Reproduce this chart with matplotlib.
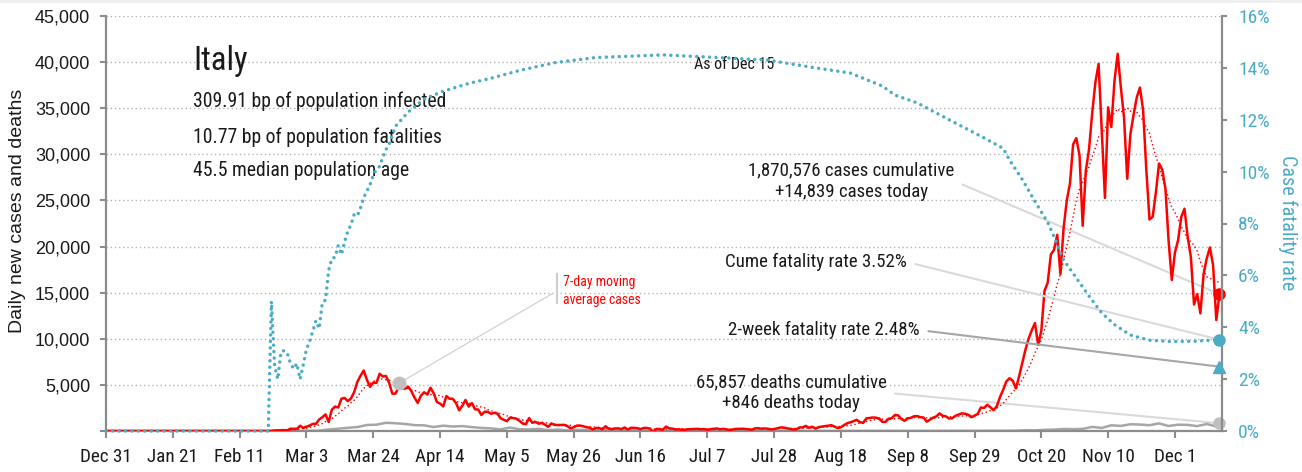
import numpy as np
import pandas as pd
import matplotlib
matplotlib.use("Agg")
import matplotlib.pyplot as plt
from matplotlib import font_manager
from matplotlib.patches import Rectangle

# daily new cases, one list per month (Feb starts on the 21st, Dec ends on the 15th)
cases_feb = [17, 59, 71, 79, 93, 78, 250, 238, 240]
cases_mar = [566, 342, 466, 587, 769, 778, 1247, 1492, 1797, 977,
             2313, 2651, 2547, 3497, 3590, 3233, 3526, 4207, 5322, 5986,
             6557, 5560, 4789, 5249, 5210, 6203, 5909, 5974, 5217, 4050, 4053]
cases_apr = [4782, 4668, 4585, 4805, 4316, 3599, 3039, 3836, 4204, 3951,
             4694, 4092, 3153, 2972, 2667, 3786, 3493, 3491, 3047, 2256,
             2729, 3370, 2646, 3021, 2357, 2324, 1739, 2091, 2086, 1872]
cases_may = [1965, 1900, 1389, 1221, 1075, 1444, 1401, 1327, 1083, 802,
             744, 1402, 888, 992, 789, 875, 675, 451, 813, 665,
             642, 652, 669, 531, 300, 397, 584, 593, 516, 416, 355]
cases_jun = [178, 318, 321, 177, 518, 270, 197, 280, 283, 202,
             379, 163, 346, 338, 301, 210, 329, 333, 251, -150,
             224, 218, 122, 480, 296, 259, 175, 174, 126, 142]
cases_jul = [187, 201, 223, 235, 192, 208, 138, 193, 229, 276,
             188, 234, 169, 114, 162, 230, 233, 249, 219, 190,
             129, 282, 306, 252, 275, 255, 170, 212, 289, 386, 379]
cases_aug = [295, 239, 159, 190, 384, 402, 552, 347, 463, 259,
             412, 481, 523, 574, 629, 479, 320, 403, 642, 845,
             947, 1071, 1210, 953, 878, 1367, 1411, 1462, 1444, 1365, 996]
cases_sep = [978, 1326, 1397, 1733, 1695, 1297, 1108, 1370, 1434, 1597,
             1616, 1501, 1458, 1008, 1229, 1452, 1585, 1907, 1638, 1587,
             1350, 1392, 1640, 1786, 1912, 1869, 1766, 1494, 1648, 1851]
cases_oct = [2548, 2499, 2844, 2578, 2257, 2677, 3678, 4458, 5372, 5724,
             5456, 4619, 5901, 7332, 8804, 10010, 10925, 11705, 9338, 10874,
             15199, 16079, 19143, 19644, 21273, 17012, 21994, 24991, 26831, 31084, 31758]
cases_nov = [29907, 22253, 28244, 30550, 34505, 37809, 39811, 32616, 25271, 35098,
             32961, 37978, 40902, 37255, 33979, 27354, 32191, 34283, 36176, 37242,
             34767, 28337, 22930, 23232, 25853, 29003, 28352, 26323, 20648, 16377]
cases_dec = [19350, 20709, 23225, 24099, 21052, 18887, 13720, 14842, 12756, 16999,
             18727, 19903, 17938, 12030, 14839]

# daily deaths, every third day from Feb 21 to Dec 14
deaths_3day = [1, 4, 5,
               5, 28, 36, 168, 250, 349, 427, 651, 683, 889, 837,
               766, 636, 610, 431, 578, 482, 534, 420, 333, 285,
               174, 369, 194, 172, 242, 99, 156, 50, 117, 111,
               55, 85, 65, 53, 44, 43, 49, 23, 30, 6,
               15, 7, 15, 7, 13, 11, 13, 10, 5, 11,
               5, 8, 3, 4, 10, 4, 6, 3, 4, 9, 6,
               10, 7, 10, 11, 9, 10, 14, 19, 17, 19,
               27, 28, 28, 39, 83, 69, 127, 151, 221, 199,
               233, 445, 331, 623, 550, 731, 699, 630, 822, 541,
               684, 662, 528, 761, 491]

# cumulative case fatality rate, %
cfr_dates = ["2019-12-31", "2020-02-20", "2020-02-21", "2020-02-22", "2020-02-23",
             "2020-02-24", "2020-02-25", "2020-02-26", "2020-02-27", "2020-02-28",
             "2020-02-29", "2020-03-01", "2020-03-02", "2020-03-03", "2020-03-04",
             "2020-03-05", "2020-03-06", "2020-03-07", "2020-03-08", "2020-03-09",
             "2020-03-10", "2020-03-11", "2020-03-12", "2020-03-13", "2020-03-14",
             "2020-03-15", "2020-03-16", "2020-03-17", "2020-03-18", "2020-03-19",
             "2020-03-20", "2020-03-21", "2020-03-22", "2020-03-23", "2020-03-24",
             "2020-03-25", "2020-03-26", "2020-03-27", "2020-03-28", "2020-03-29",
             "2020-03-30", "2020-03-31", "2020-04-04", "2020-04-09", "2020-04-15",
             "2020-04-23", "2020-04-30", "2020-05-09", "2020-05-20", "2020-06-02",
             "2020-06-23", "2020-07-10", "2020-07-26", "2020-08-10", "2020-08-21",
             "2020-08-31", "2020-09-04", "2020-09-11", "2020-09-21", "2020-10-02",
             "2020-10-08", "2020-10-10", "2020-10-14", "2020-10-18", "2020-10-22",
             "2020-10-25", "2020-10-27", "2020-10-31", "2020-11-04", "2020-11-08",
             "2020-11-12", "2020-11-17", "2020-11-23", "2020-11-30", "2020-12-07",
             "2020-12-15"]
cfr_pct = [0.0, 0.0, 5.0, 2.5, 2.0,
           3.05, 3.1, 3.0, 2.6, 2.4,
           2.6, 2.0, 2.55, 3.15, 3.45,
           3.85, 4.25, 3.95, 4.95, 5.05,
           6.2, 6.65, 6.7, 7.15, 6.8,
           7.3, 7.7, 7.95, 8.35, 8.3,
           8.6, 9.0, 9.25, 9.5, 9.85,
           10.1, 10.2, 10.55, 10.85, 11.05,
           11.4, 11.75, 12.3, 12.8, 13.1,
           13.4, 13.6, 13.9, 14.2, 14.4,
           14.5, 14.4, 14.3, 14.0, 13.8,
           13.3, 12.95, 12.65, 12.0, 11.3,
           10.9, 10.45, 9.7, 8.85, 8.05,
           7.2, 6.6, 5.9, 5.2, 4.55,
           4.1, 3.7, 3.5, 3.45, 3.46,
           3.52]

country = "Italy"
as_of = pd.Timestamp("2020-12-15")
cases_cumulative = 1870576
cases_today = 14839
deaths_cumulative = 65857
deaths_today = 846
cfr_cume = 3.52
cfr_2week = 2.48
infected_bp = 309.91
fatalities_bp = 10.77
median_age = 45.5

RED = "#ff0000"
TEAL = "#4bacc6"
GREY = "#a6a6a6"
LIGHT = "#d9d9d9"
AXIS = "#8c8c8c"
INK = "#1a1a1a"


def narrow_font():
    """Pick an installed condensed sans face, else plain Liberation Sans."""
    regular = [f for f in font_manager.fontManager.ttflist
               if f.style == "normal" and f.weight in (400, "normal", "regular", "book")]
    wanted = ["Liberation Sans Narrow", "Roboto Condensed", "Open Sans Condensed",
              "Noto Sans", "DejaVu Sans"]
    for name in wanted:
        for f in regular:
            narrow = ("Narrow" in f.name or "Condensed" in f.name
                      or "condensed" in str(f.stretch).lower())
            if f.name == name and narrow and "semi" not in str(f.stretch).lower():
                return font_manager.FontProperties(fname=f.fname), 1.0
    return font_manager.FontProperties(family="Liberation Sans"), 0.8


NARROW, SCALE = narrow_font()


def nf(size):
    fp = NARROW.copy()
    fp.set_size(size * SCALE)
    return fp


def rf(size):
    return font_manager.FontProperties(family="Liberation Sans", size=size)


# series
start = pd.Timestamp("2019-12-31")
days = pd.date_range(start, as_of, freq="D")
case_vals = (cases_feb + cases_mar + cases_apr + cases_may + cases_jun + cases_jul
             + cases_aug + cases_sep + cases_oct + cases_nov + cases_dec)
cases = pd.Series(case_vals, index=pd.date_range("2020-02-21", periods=len(case_vals)))
cases = cases.reindex(days, fill_value=0)
ma7 = cases.rolling(7, min_periods=1).mean()

death_idx = list(pd.date_range("2020-02-21", periods=len(deaths_3day), freq="3D")) + [as_of]
deaths = pd.Series([0, 0] + deaths_3day + [deaths_today],
                   index=[start, pd.Timestamp("2020-02-20")] + death_idx)

cfr = pd.Series(cfr_pct, index=pd.to_datetime(cfr_dates))

fig = plt.figure(figsize=(13.02, 4.72), dpi=100)
fig.add_artist(Rectangle((0, 1 - 3 / 472), 1, 3 / 472, transform=fig.transFigure,
                         color="#efefef", lw=0))
ax = fig.add_axes([106 / 1302, 41 / 472, 1116 / 1302, 415 / 472])
ax2 = ax.twinx()

# cases and deaths on the left scale
ax.plot(ma7.index, ma7.values, color=RED, lw=1.2, linestyle=(0, (0.01, 2.4)),
        dash_capstyle="round", zorder=3)
ax.plot(deaths.index, deaths.values, color=GREY, lw=1.8, zorder=2)
ax.plot(cases.index, cases.values, color=RED, lw=1.8, zorder=4)

# case fatality rate on the right scale
ax2.plot(cfr.index, cfr.values, color=TEAL, lw=2.5, linestyle=(0, (0.01, 1.85)),
         dash_capstyle="round", zorder=3, clip_on=False)

# end-of-series markers
ax.plot([as_of], [cases_today], "o", color=RED, ms=8, clip_on=False, zorder=6)
ax.plot([as_of], [deaths_today], "o", color="#bfbfbf", ms=8, clip_on=False, zorder=6)
ax2.plot([as_of], [cfr.iloc[-1]], "o", color=TEAL, ms=8, clip_on=False, zorder=6)
ax2.plot([as_of], [cfr_2week], "^", color=TEAL, ms=9, clip_on=False, zorder=6)

ma_date = pd.Timestamp("2020-04-01")
ax.plot([ma_date], [ma7.loc[ma_date]], "o", color="#bfbfbf", ms=9, zorder=6)

# axes
ax.set_xlim(start, as_of + pd.Timedelta(hours=19))
ax.set_ylim(0, 45000)
ax2.set_ylim(0, 16)

ticks = pd.date_range(start, as_of, freq="21D")
ax.set_xticks(ticks)
ax.set_xticklabels([f"{d:%b} {d.day}" for d in ticks], fontproperties=nf(13.8))
ax.set_yticks(np.arange(0, 45001, 5000))
ax.set_yticklabels(["" if v == 0 else f"{v:,}" for v in range(0, 45001, 5000)],
                   fontproperties=rf(13))
ax2.set_yticks(np.arange(0, 17, 2))
ax2.set_yticklabels([f"{v}%" for v in range(0, 17, 2)], fontproperties=nf(14))

ax.yaxis.grid(True, linestyle=(0, (1, 2)), color="#b3b3b3", lw=1)
ax.set_axisbelow(True)

for a in (ax, ax2):
    a.spines["top"].set_visible(False)
ax2.spines["left"].set_visible(False)
ax2.spines["bottom"].set_visible(False)
ax.spines["right"].set_visible(False)
for s in ("left", "bottom"):
    ax.spines[s].set_color(AXIS)
    ax.spines[s].set_linewidth(1.6)
ax2.spines["right"].set_color(AXIS)
ax2.spines["right"].set_linewidth(1.6)

ax.tick_params(axis="x", direction="out", length=5, width=1.5, color=AXIS, pad=7,
               labelcolor=INK)
ax.tick_params(axis="y", direction="out", length=4.3, width=1.5, color=AXIS, pad=7,
               labelcolor=INK)
ax2.tick_params(axis="y", direction="out", length=3.6, width=1.5, color=AXIS,
                pad=8, labelcolor=TEAL)

fig.text(18 / 1302, 1 - 211 / 472, "Daily new cases and deaths", rotation=90,
         ha="center", va="center", fontproperties=rf(14), color=INK)
fig.text(1288 / 1302, 1 - 223 / 472, "Case fatality rate", rotation=270,
         ha="center", va="center", fontproperties=nf(14.5), color=TEAL)

# title block
ax.text(0.078, 0.892, country, transform=ax.transAxes, fontproperties=nf(23.5),
        ha="left", va="center", color=INK)
info = [f"{infected_bp:.2f} bp of population infected",
        f"{fatalities_bp:.2f} bp of population fatalities",
        f"{median_age} median population age"]
for yf, line in zip([0.794, 0.709, 0.627], info):
    ax.text(0.078, yf, line, transform=ax.transAxes, fontproperties=nf(14.2),
            ha="left", va="center", color=INK)

ax.text(0.563, 0.882, f"As of {as_of:%b} {as_of.day}", transform=ax.transAxes,
        fontproperties=nf(11.5), ha="center", va="center", color=INK)

# callouts
lead = dict(arrowstyle="-", color=LIGHT, lw=1.5, shrinkA=4, shrinkB=0, relpos=(1, 0.5))
ax.annotate(f"{cases_cumulative:,} cases cumulative\n+{cases_today:,} cases today",
            xy=(as_of, cases_today), xytext=(0.668, 0.602), textcoords="axes fraction",
            ha="center", va="center", fontproperties=nf(13.6), linespacing=1.2,
            arrowprops=lead, zorder=1, color=INK)
ax.annotate(f"{deaths_cumulative:,} deaths cumulative\n+{deaths_today:,} deaths today",
            xy=(as_of, deaths_today), xytext=(0.614, 0.092), textcoords="axes fraction",
            ha="center", va="center", fontproperties=nf(13.6), linespacing=1.2,
            arrowprops=lead, zorder=1, color=INK)
ax2.annotate(f"Cume fatality rate {cfr_cume:.2f}%",
             xy=(as_of, cfr_cume), xytext=(0.718, 0.407), textcoords="axes fraction",
             ha="right", va="center", fontproperties=nf(13.6), arrowprops=lead,
             zorder=1, color=INK)
ax2.annotate(f"2-week fatality rate {cfr_2week:.2f}%",
             xy=(as_of, cfr_2week), xytext=(0.7295, 0.243), textcoords="axes fraction",
             ha="right", va="center", fontproperties=nf(13.6),
             arrowprops=dict(lead, color=GREY), zorder=1, color=INK)

ax.annotate("7-day moving\naverage cases", xy=(ma_date, ma7.loc[ma_date]),
            xytext=(0.4095, 0.337), textcoords="axes fraction", ha="left", va="center",
            fontproperties=nf(9.9), color=RED, linespacing=1.3,
            arrowprops=dict(arrowstyle="-", color="#cccccc", lw=0.8, shrinkA=6,
                            shrinkB=0, relpos=(0, 0.62)), zorder=1)
ax.plot([0.4041, 0.4041], [0.308, 0.378], transform=ax.transAxes, color="#cccccc", lw=1.5)

fig.savefig("out.png", dpi=100)
